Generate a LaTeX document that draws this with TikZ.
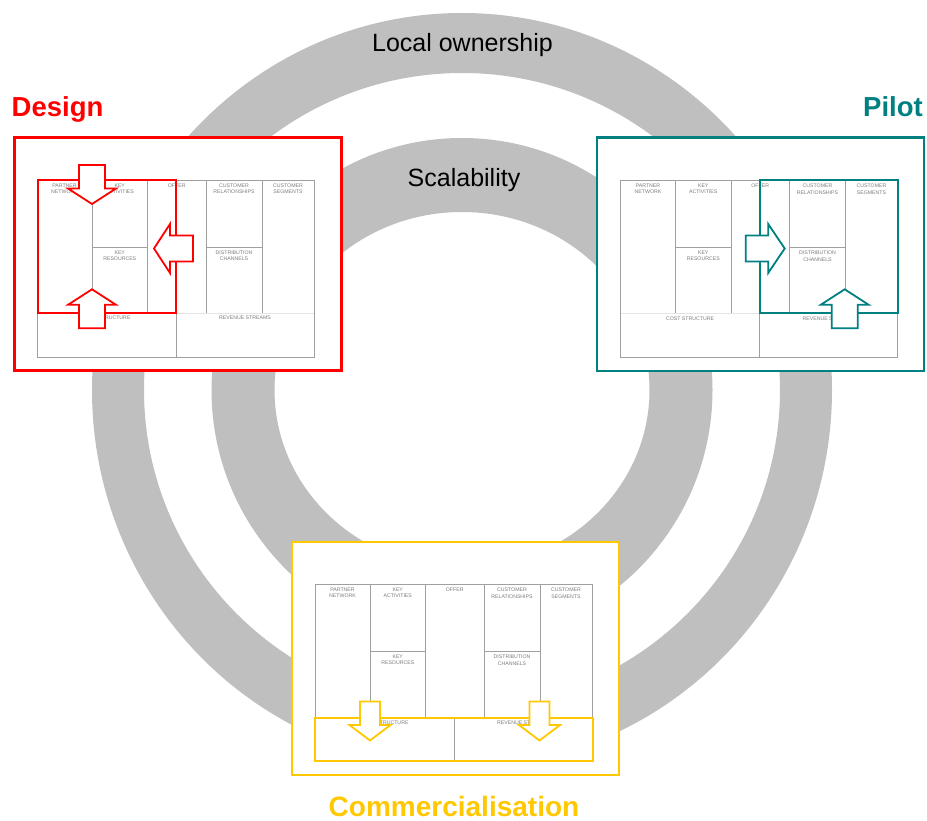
\documentclass[tikz,border=0pt]{standalone}
\usepackage{fontspec}
\setmainfont{Liberation Sans}

\definecolor{ringgray}{RGB}{191,191,191}
\definecolor{dred}{RGB}{255,0,0}
\definecolor{pteal}{RGB}{0,128,128}
\definecolor{cyellow}{RGB}{255,200,0}
\definecolor{cellline}{RGB}{160,160,160}
\definecolor{cellfaint}{RGB}{228,228,228}
\definecolor{celltext}{RGB}{125,125,125}

\tikzset{
  ring/.style={fill=ringgray, even odd rule},
  stagebox/.style={draw=#1, line width=2.6pt, fill=white, inner sep=0pt,
    minimum width=327pt, minimum height=233pt, anchor=north west},
  cellgrid/.style={draw=cellline, line width=0.8pt},
  cellsplit/.style={draw=cellfaint, line width=0.8pt},
  celllabel/.style={text=celltext, font=\fontsize{5.2}{6.4}\selectfont,
    align=center, inner sep=0pt, anchor=north},
  focus/.style={draw=#1, line width=2pt},
  blockarr/.style={draw=#1, line width=1.8pt, fill=white, line join=miter},
  stagetitle/.style={text=#1, font=\fontsize{27.5}{32}\selectfont\bfseries, inner sep=0pt},
  ringtitle/.style={font=\fontsize{25}{30}\selectfont, inner sep=0pt, anchor=base},
}

% Business model canvas grid, drawn with its top left corner at the origin
\newcommand\bmcgrid[1]{%
  \draw[cellgrid] (0,0) rectangle (277,177);
  \draw[cellgrid] (55,0) -- (55,133) (110.5,0) -- (110.5,133)
                  (169,0) -- (169,133) (225,0) -- (225,133);
  \draw[cellgrid] (55,67) -- (110.5,67) (169,67) -- (225,67);
  \draw[cellsplit] (0,133) -- (277,133);
  \draw[cellgrid] (139,133) -- (139,177);
  \node[celllabel] (#1-pn) at (27.5,3.3) {PARTNER\\NETWORK};
  \node[celllabel] (#1-ka) at (82.75,3.3) {KEY\\ACTIVITIES};
  \node[celllabel] (#1-of) at (139.75,3.3) {OFFER};
  \node[celllabel] (#1-cr) at (197,3.3) {CUSTOMER\\RELATIONSHIPS};
  \node[celllabel] (#1-cs) at (251,3.3) {CUSTOMER\\SEGMENTS};
  \node[celllabel] (#1-kr) at (82.75,70.3) {KEY\\RESOURCES};
  \node[celllabel] (#1-dc) at (197,70.3) {DISTRIBUTION\\CHANNELS};
  \node[celllabel] (#1-co) at (69.5,136) {COST STRUCTURE};
  \node[celllabel] (#1-rs) at (208,136) {REVENUE STREAMS};
}

% Block arrow: colour, tip, rotation, half shaft width, half head width, head length
\newcommand\blockarrow[6]{%
  \draw[blockarr=#1, shift={#2}, rotate=#3]
    (0,0) -- (#5,-#6) -- (#4,-#6) -- (#4,-39) -- (-#4,-39) -- (-#4,-#6) -- (-#5,-#6) -- cycle;
}

\begin{document}
\begin{tikzpicture}[x=1pt, y=-1pt]
  \useasboundingbox (0,0) rectangle (927,821);

  % the two rings
  \fill[ring] (462,390) ellipse [x radius=370, y radius=377]
              (462,390) ellipse [x radius=318, y radius=317];
  \fill[ring] (462,390) ellipse [x radius=250.5, y radius=252]
              (462,390) ellipse [x radius=187.5, y radius=178];

  \node[ringtitle] (own) at (462.5,52) {Local ownership};
  \node[ringtitle] (scal) at (464,187) {Scalability};

  % stage frames
  \node[stagebox=dred] (designbox) at (13,136) {};
  \node[stagebox=pteal] (pilotbox) at (595.5,136.5) {};
  \node[stagebox=cyellow] (commbox) at (290.5,540.5) {};

  \node[stagetitle=dred, anchor=base west] (design) at (11.5,117) {Design};
  \node[stagetitle=pteal, anchor=base east] (pilot) at (923,116.5) {Pilot};
  \node[stagetitle=cyellow, anchor=base, font=\fontsize{28}{32}\selectfont\bfseries]
    (comm) at (454,816) {Commercialisation};

  % canvases
  \begin{scope}[shift={(37,180)}]
    \bmcgrid{d}
  \end{scope}
  \begin{scope}[shift={(620.5,180.5)}]
    \bmcgrid{p}
  \end{scope}
  \begin{scope}[shift={(315,584.5)}]
    \bmcgrid{c}
  \end{scope}

  % Design: supply side in focus
  \draw[focus=dred] (37.5,180) rectangle (176,313);
  \blockarrow{dred}{(92,204)}{0}{13}{24}{15.5}
  \blockarrow{dred}{(92,289.3)}{180}{13}{24}{15.5}
  \blockarrow{dred}{(154,248.5)}{-90}{13}{24.5}{16}

  % Pilot: customer side in focus
  \draw[focus=pteal] (759.5,180.5) rectangle (897.5,312.7);
  \blockarrow{pteal}{(784.7,248.5)}{90}{13}{24.5}{16.5}
  \blockarrow{pteal}{(844.7,289.3)}{180}{13}{24}{15.5}

  % Commercialisation: cost and revenue in focus
  \draw[focus=cyellow] (315,718) rectangle (592.5,760.5);
  \blockarrow{cyellow}{(370,740.5)}{0}{10}{20.5}{15.5}
  \blockarrow{cyellow}{(539.5,740.5)}{0}{10}{20.5}{15.5}
\end{tikzpicture}
\end{document}
